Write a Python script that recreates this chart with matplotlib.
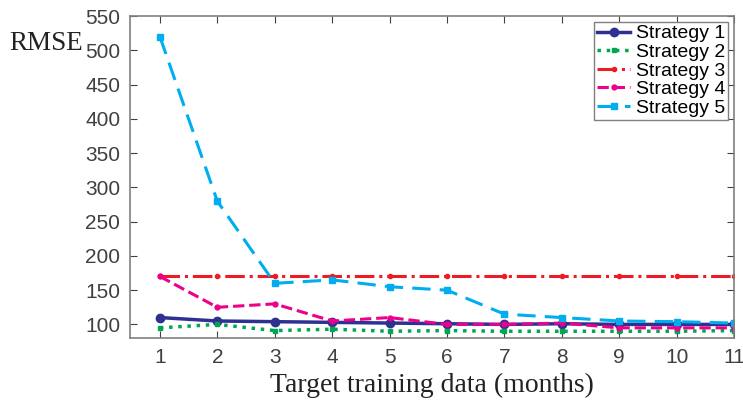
import numpy as np
from matplotlib import pyplot as plt

months = [1, 2, 3, 4, 5, 6, 7, 8, 9, 10, 11]
s1 = [110, 105, 104, 103, 102, 101, 100, 101, 100, 100, 100]
s2 = [95, 100, 91, 93, 90, 91, 90, 90, 90, 90, 91]
s3 = [170, 170, 170, 170, 170, 170, 170, 170, 170, 170, 170]
s4 = [170, 125, 130, 105, 110, 100, 100, 102, 95, 95, 95]
s5 = [520, 280, 160, 165, 155, 150, 115, 110, 105, 104, 102]
labels = ['Strategy 1', 'Strategy 2', 'Strategy 3', 'Strategy 4', 'Strategy 5']

fig = plt.figure(figsize=(7.43, 4.03), dpi=100)
ax = fig.add_axes([0.175, 0.161, 0.813, 0.799])

ax.plot(months, s1, '-', color='#2E3192', lw=2.5, marker='o', ms=6,
        mfc='#2E3192', label=labels[0])
ax.plot(months, s2, ':', color='#00A651', lw=2.5, marker='s', ms=3,
        label=labels[1])
ax.plot(months, s3, '-.', color='#ED1C24', lw=2.2, marker='o', ms=3,
        label=labels[2])
ax.plot(months, s4, '--', color='#EC008C', lw=2.2, marker='o', ms=3.5,
        label=labels[3])
ax.plot(months, s5, '--', color='#00AEEF', lw=2.2, marker='s', ms=5,
        mfc='#00AEEF', label=labels[4], dashes=(6, 3))

ax.set_xlim(0.48, 11)
ax.set_ylim(80, 550)
ax.set_xticks(months)
ax.set_yticks(np.arange(100, 551, 50))
ax.tick_params(direction='in', top=True, right=True, length=5,
               labelsize=15, colors='#404040', pad=7)
for lbl in ax.get_xticklabels() + ax.get_yticklabels():
    lbl.set_family('Liberation Sans')
for sp in ax.spines.values():
    sp.set_color('#808080')
    sp.set_linewidth(1.2)

ax.set_xlabel('Target training data (months)', family='Liberation Serif',
              fontsize=20, color='#222222', labelpad=4)
fig.text(0.012, 0.875, 'RMSE', family='Liberation Serif', fontsize=19.5,
         color='#222222')

leg = ax.legend(loc='upper right', prop={'family': 'Liberation Sans', 'size': 14},
                handlelength=1.7, handletextpad=0.3, borderpad=0.15,
                labelspacing=0.05, fancybox=False, framealpha=1,
                borderaxespad=0.3)
leg.get_frame().set_edgecolor('#808080')

fig.savefig('out.png', dpi=100)
